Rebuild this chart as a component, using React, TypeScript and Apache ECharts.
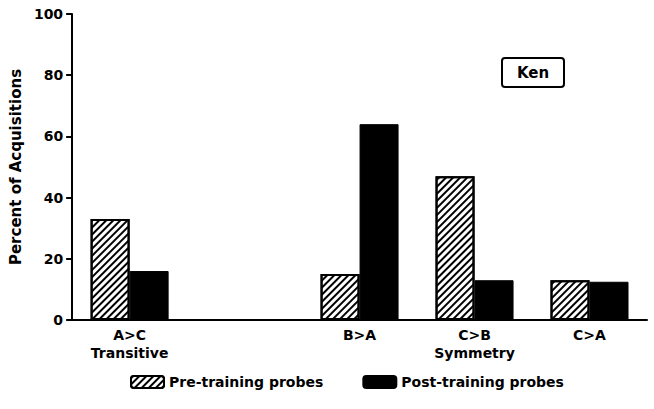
import React, { useEffect, useRef } from "react";
import * as echarts from "echarts";

const categories = ["A>C\nTransitive", "", "B>A", "C>B\nSymmetry", "C>A"];
const preTraining = [33, null, 15, 47, 13];
const postTraining = [16, null, 64, 13, 12.5];
const yTicks = [0, 20, 40, 60, 80, 100];
const seriesNames = ["Pre-training probes", "Post-training probes"];
const subjectName = "Ken";

const FONT = "DejaVu Sans";

export default function App() {
  const ref = useRef<HTMLDivElement>(null);
  useEffect(() => {
    if (!ref.current) return;
    const chart = echarts.init(ref.current, undefined, { renderer: "svg" });
    const hatch = {
      symbol: "rect",
      symbolSize: 1,
      color: "#000",
      backgroundColor: "#fff",
      dashArrayX: [1, 0],
      dashArrayY: [1.8, 2.2],
      rotation: -Math.PI / 4,
    };
    chart.setOption({
      animation: false,
      backgroundColor: "#fff",
      grid: { left: 72, right: 7, top: 14, bottom: 89, containLabel: false },
      xAxis: {
        type: "category",
        data: categories,
        axisLine: { lineStyle: { color: "#000", width: 2 } },
        axisTick: { show: false },
        axisLabel: {
          color: "#000",
          fontFamily: FONT,
          fontWeight: "bold",
          fontSize: 14,
          lineHeight: 18,
          margin: 6,
          interval: 0,
        },
      },
      yAxis: {
        type: "value",
        min: yTicks[0],
        max: yTicks[yTicks.length - 1],
        interval: 20,
        name: "Percent of Acquisitions",
        nameLocation: "middle",
        nameGap: 44,
        nameTextStyle: { color: "#000", fontFamily: FONT, fontWeight: "bold", fontSize: 15 },
        splitLine: { show: false },
        axisLine: { show: true, lineStyle: { color: "#000", width: 2 } },
        axisTick: { show: true, length: 6, lineStyle: { color: "#000", width: 2 } },
        axisLabel: { color: "#000", fontFamily: FONT, fontWeight: "bold", fontSize: 14, margin: 9 },
      },
      legend: {
        left: 125,
        top: 375,
        padding: [0, 5, 0, 5],
        itemWidth: 33,
        itemHeight: 12,
        itemGap: 39,
        textStyle: { color: "#000", fontFamily: FONT, fontWeight: "bold", fontSize: 14 },
        data: seriesNames,
      },
      series: [
        {
          name: seriesNames[0],
          type: "bar",
          data: preTraining,
          barWidth: 39,
          barGap: "0%",
          itemStyle: { color: "#fff", borderColor: "#000", borderWidth: 2, decal: hatch },
        },
        {
          name: seriesNames[1],
          type: "bar",
          data: postTraining,
          barWidth: 39,
          barGap: "0%",
          itemStyle: { color: "#000", borderColor: "#000", borderWidth: 1 },
        },
      ],
      graphic: [
        {
          type: "group",
          left: 501,
          top: 57,
          children: [
            {
              type: "rect",
              shape: { x: 0, y: 0, width: 62, height: 29, r: 3 },
              style: { fill: "#fff", stroke: "#000", lineWidth: 2 },
            },
            {
              type: "text",
              x: 31,
              y: 15,
              style: {
                text: subjectName,
                fill: "#000",
                font: `bold 15px "${FONT}"`,
                align: "center",
                verticalAlign: "middle",
              },
            },
          ],
        },
      ],
    });
    return () => chart.dispose();
  }, []);
  return <div ref={ref} style={{ width: 654, height: 409, position: "absolute", left: 0, top: 0 }} />;
}
